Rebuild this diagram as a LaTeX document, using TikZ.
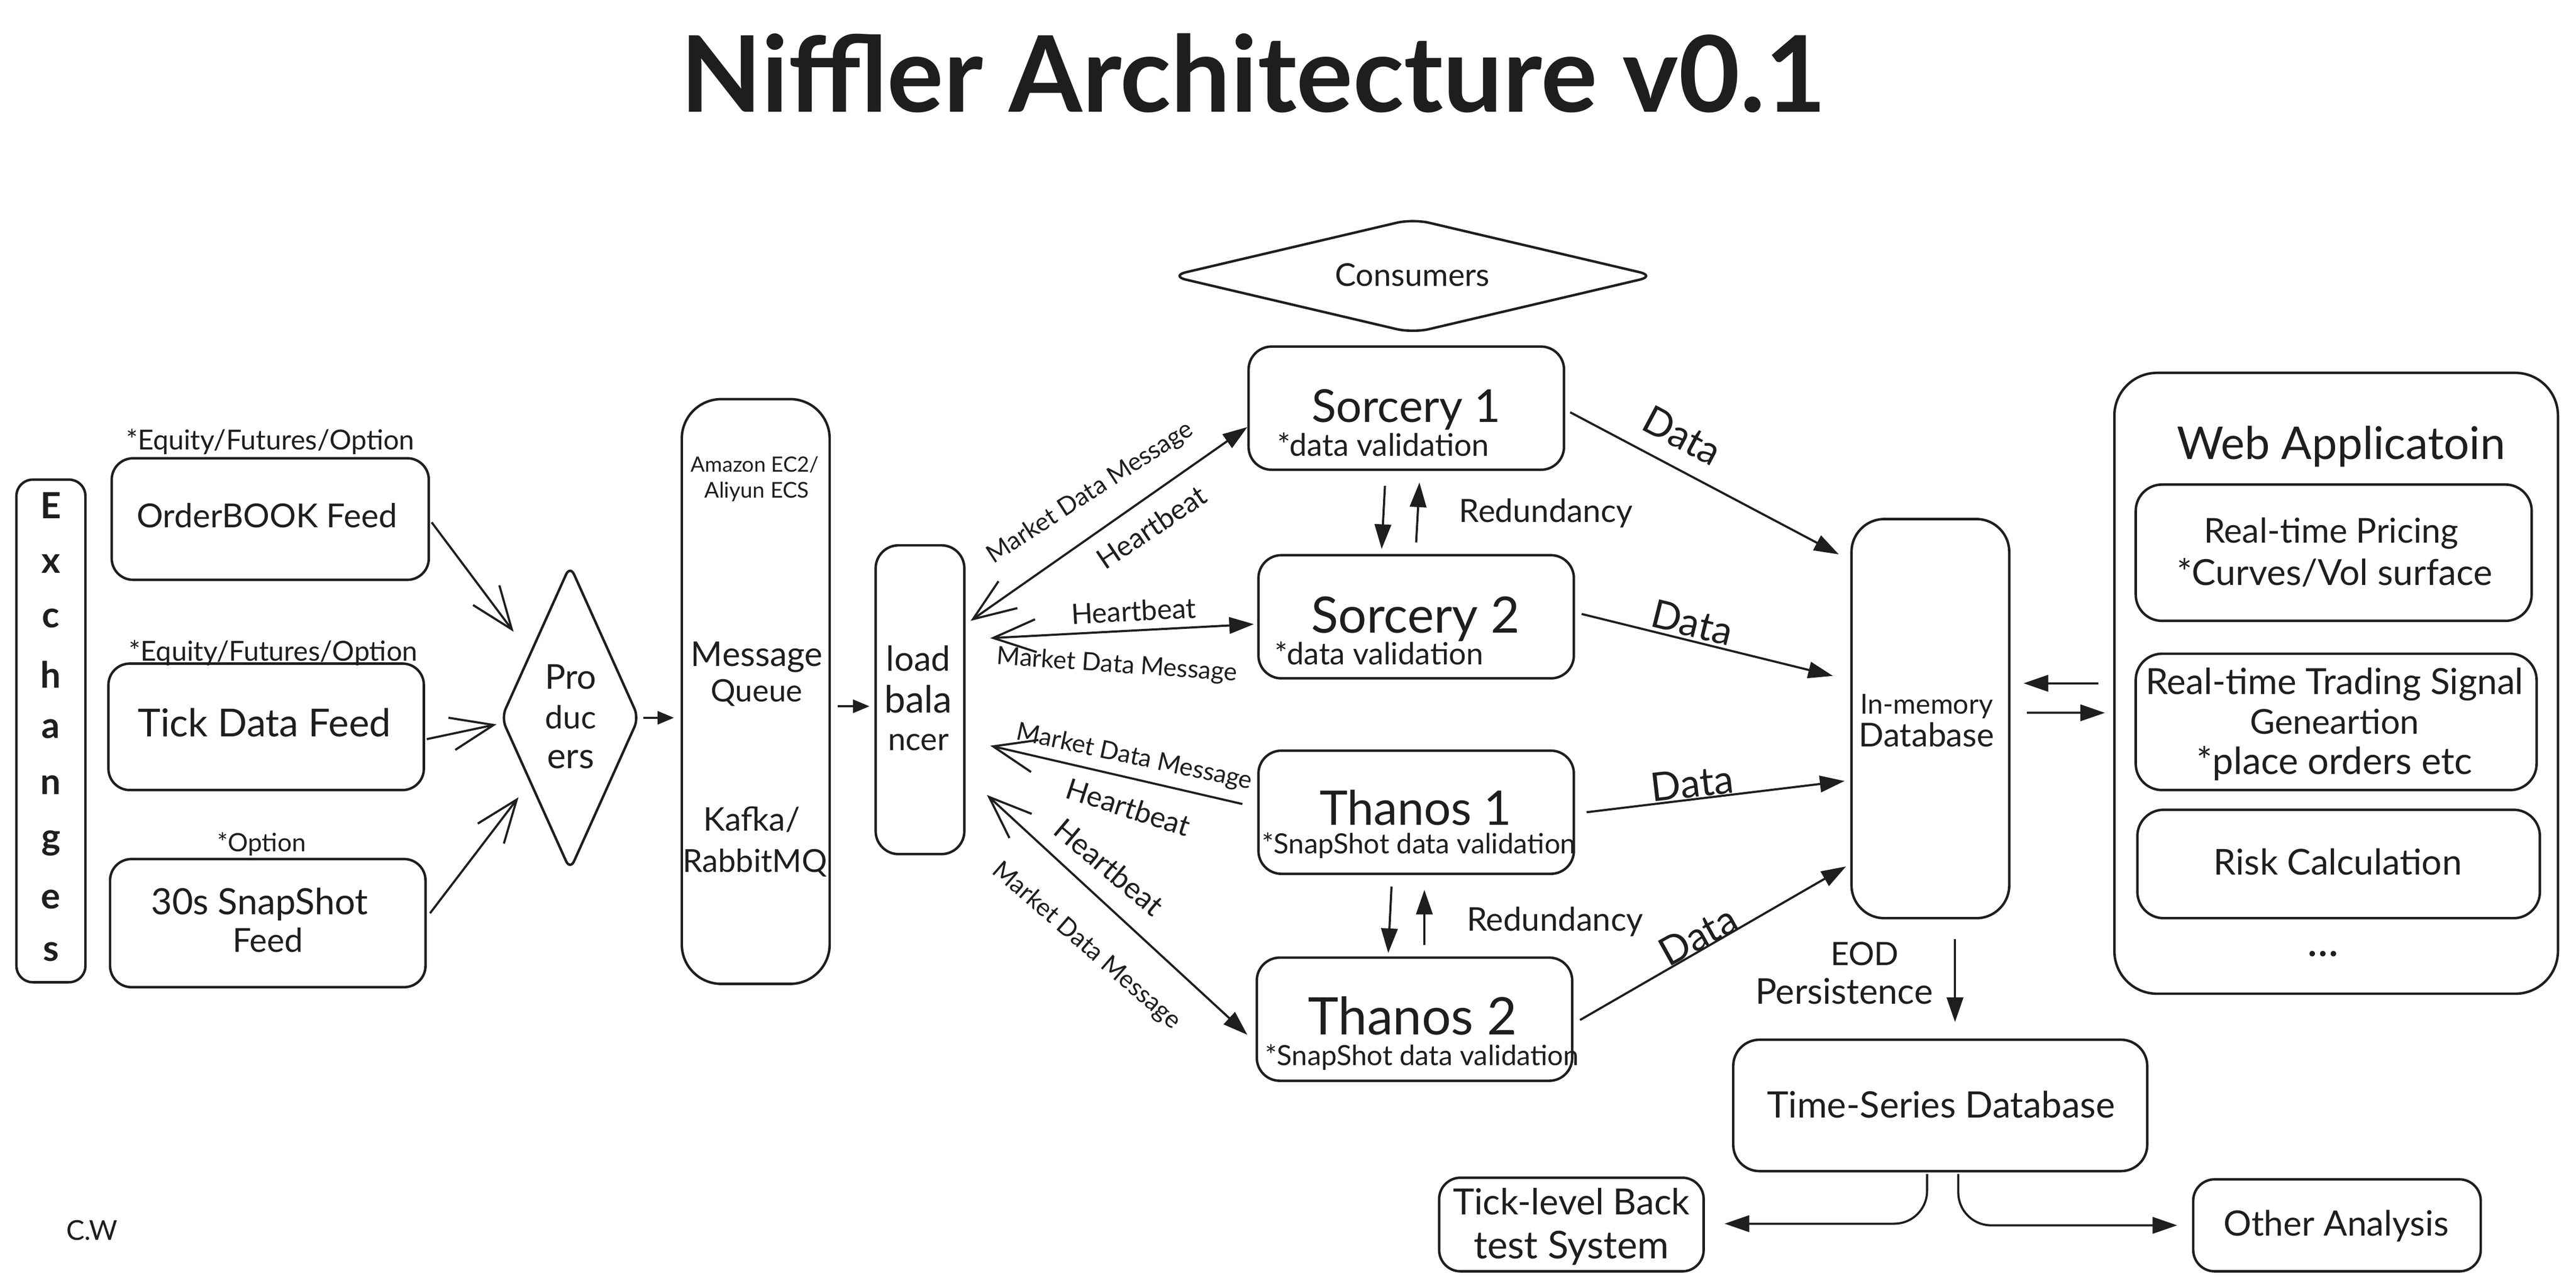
\documentclass[tikz,border=0pt]{standalone}
\usepackage{fontspec}
\setmainfont{Lato}
\usepackage{graphicx}
\usetikzlibrary{arrows.meta,calc,shapes.geometric}
\definecolor{ink}{HTML}{1E1E1E}
\newcommand\tw[2]{\resizebox{#1pt}{!}{\vphantom{A}\smash{#2}}}
\begin{document}
\begin{tikzpicture}[x=1pt,y=-1pt,
  box/.style={draw=ink, line width=1.5pt, rounded corners=13pt, inner sep=0pt},
  txt/.style={inner sep=0pt, text=ink},
  fa/.style={draw=ink, line width=1.3pt, -{Triangle[length=15pt,width=10pt]}},
  sa/.style={draw=ink, line width=1.3pt, -{Triangle[length=10pt,width=8pt]}},
  oa/.style={draw=ink, line width=1.3pt, -{Straight Barb[length=26pt,width=20pt]}},
  ba/.style={draw=ink, line width=1.3pt, {Straight Barb[length=26pt,width=20pt]}-{Triangle[length=15pt,width=10pt]}},
]
\fill[white] (0,0) rectangle (1568,784);
\useasboundingbox (0,0) rectangle (1568,784);

% title
\node[txt, font=\bfseries] (title) at (763,45) {\tw{697}{Niffler Architecture v0.1}};

% exchanges
\node[box, rounded corners=10pt, minimum width=42pt, minimum height=306pt] (exch) at (31,445) {};
\foreach \l/\yy [count=\i] in {E/307.8, x/343.3, c/376.4, h/410.6, a/443.8, n/477.9, g/513.4, e/547.5, s/579.4}
  \node[txt, font=\fontsize{22}{22}\selectfont\bfseries] (ex\i) at (31,\yy) {\l};

% feeds
\node[box, minimum width=193pt, minimum height=74pt] (ob) at (164.5,316) {};
\node[box, minimum width=192pt, minimum height=77pt] (tick) at (162,442.5) {};
\node[box, minimum width=192pt, minimum height=78pt] (snap) at (163,562) {};
\node[txt] (obt) at (162.5,314) {\tw{158.5}{OrderBOOK Feed}};
\node[txt] (tickt) at (161,440) {\tw{154}{Tick Data Feed}};
\node[txt] (snapt1) at (158,549) {\tw{132}{30s SnapShot}};
\node[txt] (snapt2) at (163,572.5) {\tw{43}{Feed}};
\node[txt] (obl) at (164.5,267.7) {\tw{175.5}{*Equity/Futures/Option}};
\node[txt] (tickl) at (166.3,396.4) {\tw{175.5}{*Equity/Futures/Option}};
\node[txt] (snapl) at (159.2,513) {\tw{54}{*Option}};

% producers
\node[diamond, draw=ink, line width=1.5pt, rounded corners=6pt, inner sep=0pt, minimum width=84pt, minimum height=186pt] (prod) at (347,437) {};
\node[txt] (prod1) at (347.4,412) {\tw{31.3}{Pro}};
\node[txt] (prod2) at (347.4,436.7) {\tw{31}{duc}};
\node[txt] (prod3) at (347.4,460.2) {\tw{28.6}{ers}};

% message queue
\node[box, rounded corners=24pt, minimum width=90pt, minimum height=356pt] (mq) at (460,421) {};
\node[txt] (mq1) at (459.5,282.8) {\tw{78}{Amazon EC2/}};
\node[txt] (mq2) at (460.6,298.3) {\tw{63.7}{Aliyun ECS}};
\node[txt] (mq3) at (460.6,398) {\tw{80}{Message}};
\node[txt] (mq4) at (460.6,420.6) {\tw{55.8}{Queue}};
\node[txt] (mq5) at (457.6,498.6) {\tw{58.6}{Kafka/}};
\node[txt] (mq6) at (459.5,524) {\tw{88}{RabbitMQ}};

% load balancer
\node[box, rounded corners=14pt, minimum width=54pt, minimum height=188pt] (lb) at (560,426) {};
\node[txt] (lb1) at (559,401) {\tw{39}{load}};
\node[txt] (lb2) at (559,425.7) {\tw{41}{bala}};
\node[txt] (lb3) at (559,450) {\tw{37}{ncer}};

% consumers
\node[diamond, draw=ink, line width=1.5pt, rounded corners=10pt, inner sep=0pt, minimum width=296pt, minimum height=70pt] (cons) at (860,168) {};
\node[txt] (const) at (859.8,167.3) {\tw{94}{Consumers}};

% sorcery / thanos
\node[box, rounded corners=14pt, minimum width=192pt, minimum height=75pt] (s1) at (856,248.5) {};
\node[box, rounded corners=14pt, minimum width=192pt, minimum height=75pt] (s2) at (862,375.5) {};
\node[box, rounded corners=14pt, minimum width=192pt, minimum height=75pt] (t1) at (862,494.5) {};
\node[box, rounded corners=14pt, minimum width=192pt, minimum height=75pt] (t2) at (861,620.5) {};
\node[txt] (s1a) at (856,247) {\tw{115}{Sorcery 1}};
\node[txt] (s1b) at (842,271) {\tw{129}{*data validation}};
\node[txt] (s2a) at (861.7,374.3) {\tw{127}{Sorcery 2}};
\node[txt] (s2b) at (839.5,398) {\tw{127}{*data validation}};
\node[txt] (t1a) at (861.7,492) {\tw{117}{Thanos 1}};
\node[txt] (t1b) at (863.7,513.5) {\tw{191}{*SnapShot data validation}};
\node[txt] (t2a) at (859.8,618.7) {\tw{127}{Thanos 2}};
\node[txt] (t2b) at (865.6,642.6) {\tw{191}{*SnapShot data validation}};

% redundancy
\draw[fa] ($(s1.south)+(-13,9)$) -- ($(s2.north)+(-21,-3)$);
\draw[fa] ($(s2.north)+(0,-7)$) -- ($(s1.south)+(8,7)$);
\node[txt] (red1) at (941,311) {\tw{105.5}{Redundancy}};
\draw[fa] ($(t1.south)+(-15,7)$) -- ($(t2.north)+(-16,-2)$);
\draw[fa] ($(t2.north)+(6,-7)$) -- ($(t1.south)+(5,9)$);
\node[txt] (red2) at (946.5,559.5) {\tw{107.4}{Redundancy}};

% in-memory database
\node[box, rounded corners=20pt, minimum width=96pt, minimum height=243pt] (imdb) at (1175,437.5) {};
\node[txt] (imdb1) at (1172.7,428.6) {\tw{80.8}{In-memory}};
\node[txt] (imdb2) at (1172.7,447.3) {\tw{82.4}{Database}};

% web application
\node[box, rounded corners=26pt, minimum width=270pt, minimum height=378pt] (web) at (1422,416) {};
\node[txt] (webt) at (1425,269.6) {\tw{200}{Web Applicatoin}};
\node[box, rounded corners=16pt, minimum width=241pt, minimum height=83pt] (rtp) at (1420.5,336.5) {};
\node[box, rounded corners=16pt, minimum width=244pt, minimum height=83pt] (rts) at (1422,439.5) {};
\node[box, rounded corners=16pt, minimum width=245pt, minimum height=66pt] (risk) at (1423.5,526) {};
\node[txt] (rtp1) at (1419,323) {\tw{155}{Real-time Pricing}};
\node[txt] (rtp2) at (1421,348.4) {\tw{192}{*Curves/Vol surface}};
\node[txt] (rts1) at (1421,414.7) {\tw{230}{Real-time Trading Signal}};
\node[txt] (rts2) at (1421,439.3) {\tw{103}{Geneartion}};
\node[txt] (rts3) at (1421,463.3) {\tw{167.6}{*place orders etc}};
\node[txt] (riskt) at (1423,524.7) {\tw{151}{Risk Calculation}};
\node[txt] (dots) at (1414,572.7) {\tw{19}{...}};

% storage
\node[box, rounded corners=16pt, minimum width=252pt, minimum height=80pt] (tsdb) at (1181,673) {};
\node[txt] (tsdbt) at (1181.5,672.6) {\tw{211.8}{Time-Series Database}};
\node[box, rounded corners=13pt, minimum width=161pt, minimum height=57pt] (back) at (956.5,745.5) {};
\node[txt] (back1) at (956.5,731.6) {\tw{144}{Tick-level Back}};
\node[txt] (back2) at (956.5,758) {\tw{118.7}{test System}};
\node[box, rounded corners=13pt, minimum width=175pt, minimum height=56pt] (other) at (1422.5,746) {};
\node[txt] (othert) at (1422,744.8) {\tw{137}{Other Analysis}};
\node[txt] (eod1) at (1135,580.8) {\tw{41.6}{EOD}};
\node[txt] (eod2) at (1122.5,603.6) {\tw{108}{Persistence}};
\node[txt] (cw) at (56,749) {\tw{31.4}{C.W}};

% feed arrows
\draw[oa] ($(ob.east)+(1,2)$) -- ($(prod.north west)+(-13,-5.5)$);
\draw[oa] ($(tick.east)+(1,7.5)$) -- ($(prod.west)+(-2,4)$);
\draw[oa] ($(snap.east)+(2,-6)$) -- ($(prod.south west)+(-10,1.5)$);
\draw[sa] ($(prod.east)+(2,0)$) -- ($(mq.west)+(-4,16)$);
\draw[sa] ($(mq.east)+(4,9)$) -- ($(lb.west)+(-3,4)$);

% load balancer <-> consumers
\draw[ba] ($(lb.east)+(3,-48)$) -- ($(s1.west)+(0,11.5)$);
\draw[ba] ($(lb.east)+(15,-37.5)$) -- ($(s2.west)+(-2,4.5)$);
\draw[oa] ($(t1.west)+(-9,-5)$) -- ($(lb.east)+(15,28)$);
\draw[ba] ($(lb.east)+(13,58)$) -- ($(t2.west)+(-5,9.5)$);
\node[txt, rotate=33] (l1a) at (663,299) {\tw{146}{Market Data Message}};
\node[txt, rotate=34] (l1b) at (701,321) {\tw{76}{Heartbeat}};
\node[txt, rotate=3] (l2a) at (690,372) {\tw{76}{Heartbeat}};
\node[txt, rotate=-4] (l2b) at (680,404) {\tw{146.5}{Market Data Message}};
\node[txt, rotate=-12] (l3a) at (690.7,460) {\tw{146}{Market Data Message}};
\node[txt, rotate=-18] (l3b) at (686.8,491.5) {\tw{78}{Heartbeat}};
\node[txt, rotate=-40] (l4a) at (675,528) {\tw{80}{Heartbeat}};
\node[txt, rotate=-41] (l4b) at (662,575) {\tw{146}{Market Data Message}};

% data arrows
\draw[fa] ($(s1.east)+(3,2.5)$) -- ($(imdb.west)+(-7,-100)$);
\draw[fa] ($(s2.east)+(4,-1.7)$) -- ($(imdb.west)+(-10.6,-26)$);
\draw[fa] ($(t1.east)+(7,0)$) -- ($(imdb.west)+(-3.5,38)$);
\draw[fa] ($(t2.east)+(4,0.5)$) -- ($(imdb.west)+(-2.6,90)$);
\node[txt, rotate=-28] (d1) at (1024,265) {\tw{50}{Data}};
\node[txt, rotate=-14] (d2) at (1030,379) {\tw{50}{Data}};
\node[txt, rotate=6.5] (d3) at (1030,476.7) {\tw{50.5}{Data}};
\node[txt, rotate=29] (d4) at (1033.5,569.5) {\tw{50}{Data}};

% web <-> imdb
\draw[fa] ($(web.west)+(-9,0)$) -- ($(imdb.east)+(8,-21.5)$);
\draw[fa] ($(imdb.east)+(10,-3.6)$) -- ($(web.west)+(-5,18)$);

% persistence and analysis
\draw[fa] ($(imdb.south)+(15,12)$) -- ($(tsdb.north)+(9,-10)$);
\draw[fa, rounded corners=20pt] ($(tsdb.south)+(-8,1)$) |- ($(back.east)+(12,-0.5)$);
\draw[fa, rounded corners=20pt] ($(tsdb.south)+(11,1)$) |- ($(other.west)+(-9,0)$);
\end{tikzpicture}
\end{document}
